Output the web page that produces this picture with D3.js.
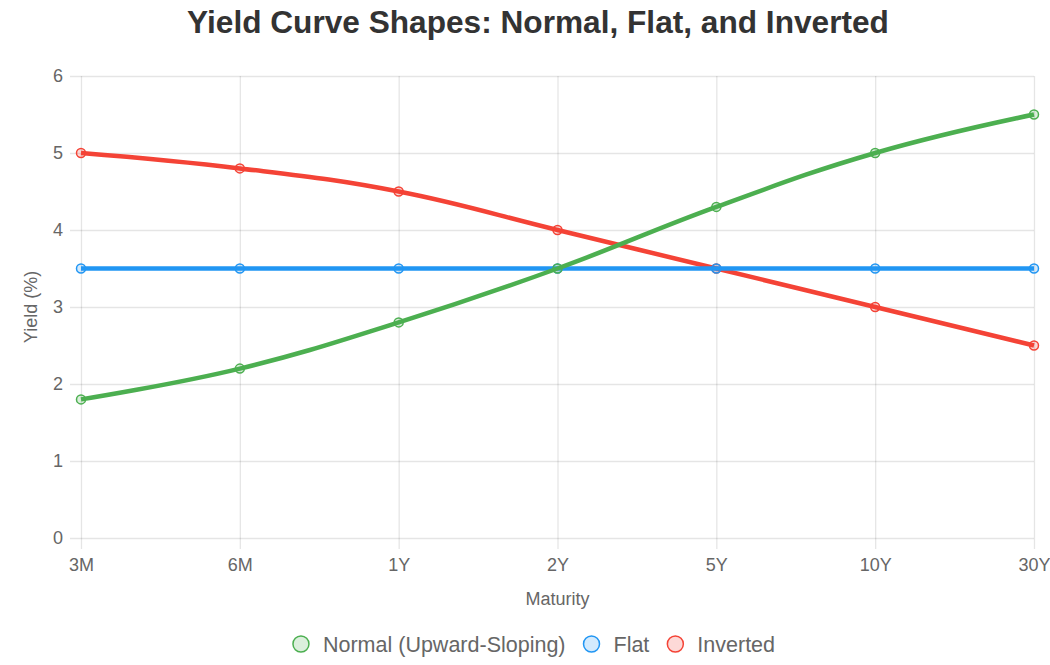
<!DOCTYPE html>
<html>
<head>
<meta charset="utf-8">
<script src="https://cdn.jsdelivr.net/npm/d3@7"></script>
<style>
  html, body { margin: 0; padding: 0; background: #fff; }
  svg text { font-family: "Liberation Sans", Arial, Helvetica, sans-serif; }
</style>
</head>
<body>
<div id="chart"></div>
<script>
const maturities = ['3M', '6M', '1Y', '2Y', '5Y', '10Y', '30Y'];
const normalYields = [1.8, 2.2, 2.8, 3.5, 4.3, 5.0, 5.5];
const flatYields = [3.5, 3.5, 3.5, 3.5, 3.5, 3.5, 3.5];
const invertedYields = [5.0, 4.8, 4.5, 4.0, 3.5, 3.0, 2.5];
const yTicks = [0, 1, 2, 3, 4, 5, 6];

const seriesNames = ['Normal (Upward-Sloping)', 'Flat', 'Inverted'];
const seriesColors = ['#4caf50', '#2196f3', '#f44336'];
const seriesFills = ['rgba(76,175,80,0.2)', 'rgba(33,150,243,0.2)', 'rgba(244,67,54,0.2)'];

const width = 1050, height = 665;
const margin = {top: 76, right: 16, bottom: 127, left: 81};

const series = [normalYields, flatYields, invertedYields].map((values, i) => ({
  name: seriesNames[i],
  color: seriesColors[i],
  fill: seriesFills[i],
  values: values.map((v, j) => ({key: maturities[j], value: v}))
}));

const svg = d3.select('#chart')
    .append('svg')
    .attr('width', width)
    .attr('height', height);

const x = d3.scalePoint()
    .domain(maturities)
    .range([margin.left, width - margin.right]);

const y = d3.scaleLinear()
    .domain([0, 6])
    .range([height - margin.bottom, margin.top]);

const gridColor = 'rgba(0,0,0,0.1)';

// y grid + ticks
const yAxis = svg.append('g')
    .attr('transform', `translate(${margin.left},0)`)
    .call(d3.axisLeft(y)
        .tickValues(yTicks)
        .tickFormat(d3.format('d'))
        .tickSize(-(width - margin.left - margin.right))
        .tickPadding(18));
yAxis.select('.domain').remove();
yAxis.selectAll('.tick line')
    .attr('x1', -11)
    .attr('stroke', gridColor)
    .attr('stroke-width', 1.3);
yAxis.selectAll('.tick text')
    .attr('fill', '#666')
    .style('font-size', '18px');

// x grid + ticks
const xAxis = svg.append('g')
    .attr('transform', `translate(0,${height - margin.bottom})`)
    .call(d3.axisBottom(x)
        .tickSize(-(height - margin.top - margin.bottom))
        .tickPadding(20));
xAxis.select('.domain').remove();
xAxis.selectAll('.tick line')
    .attr('y1', 11)
    .attr('stroke', gridColor)
    .attr('stroke-width', 1.3);
xAxis.selectAll('.tick text')
    .attr('fill', '#666')
    .style('font-size', '18px');

// axis titles
svg.append('text')
    .attr('x', (margin.left + width - margin.right) / 2)
    .attr('y', 605)
    .attr('text-anchor', 'middle')
    .attr('fill', '#666')
    .style('font-size', '18px')
    .text('Maturity');

svg.append('text')
    .attr('transform', `translate(37,${(margin.top + height - margin.bottom) / 2}) rotate(-90)`)
    .attr('text-anchor', 'middle')
    .attr('fill', '#666')
    .style('font-size', '18px')
    .text('Yield (%)');

// lines, first dataset drawn last so it sits on top
const line = d3.line()
    .x(d => x(d.key))
    .y(d => y(d.value))
    .curve(d3.curveCardinal.tension(-0.2));

const plot = svg.append('g');
series.slice().reverse().forEach(s => {
  plot.append('path')
      .datum(s.values)
      .attr('fill', 'none')
      .attr('stroke', s.color)
      .attr('stroke-width', 4.5)
      .attr('stroke-linejoin', 'round')
      .attr('d', line);
  plot.selectAll(null)
      .data(s.values)
      .enter()
      .append('circle')
      .attr('cx', d => x(d.key))
      .attr('cy', d => y(d.value))
      .attr('r', 4.5)
      .attr('fill', s.fill)
      .attr('stroke', s.color)
      .attr('stroke-width', 1.5);
});

// title
const title = svg.append('text')
    .attr('x', 538)
    .attr('y', 33)
    .attr('text-anchor', 'middle')
    .attr('fill', '#333')
    .style('font-weight', 'bold')
    .style('font-size', '28px')
    .text('Yield Curve Shapes: Normal, Flat, and Inverted');
const tw = title.node().getComputedTextLength();
title.style('font-size', (28 * 702 / tw).toFixed(2) + 'px');

// legend
const legend = svg.append('g');
const legendY = 644;
let cursor = 0;
series.forEach(s => {
  const g = legend.append('g');
  g.append('circle')
      .attr('cx', 8)
      .attr('cy', 0)
      .attr('r', 8)
      .attr('fill', s.fill)
      .attr('stroke', s.color)
      .attr('stroke-width', 1.5);
  const t = g.append('text')
      .attr('x', 30)
      .attr('y', 7.5)
      .attr('fill', '#666')
      .style('font-size', '21.5px')
      .text(s.name);
  const w = 30 + t.node().getComputedTextLength();
  g.attr('transform', `translate(${cursor},${legendY})`);
  cursor += w + 18;
});
const legendWidth = cursor - 18;
legend.attr('transform', `translate(${534 - legendWidth / 2},0)`);
</script>
</body>
</html>
